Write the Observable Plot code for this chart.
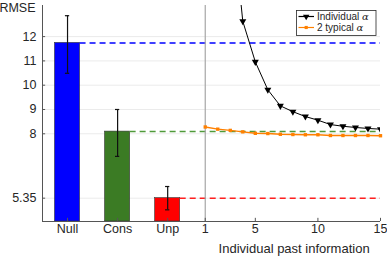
<!DOCTYPE html>
<html><head><meta charset="utf-8">
<script src="https://cdn.jsdelivr.net/npm/d3@7"></script>
<script src="https://cdn.jsdelivr.net/npm/@observablehq/plot@0.6"></script>
<style>body{margin:0;background:#fff}svg{font-family:"Liberation Sans",Arial,sans-serif}</style>
</head><body><div id="chart"></div>
<script>
const categories = ["Null", "Cons", "Unp"];
const barPos = [-10, -6, -2];
const barValues = [11.74, 8.09, 5.35];
const errLow = [10.49, 7.07, 4.87];
const errHigh = [12.86, 9.0, 5.83];
const barColors = ["#0000ff", "#3b7b24", "#ff0000"];
const dashColors = ["#0000ff", "#4f9a3a", "#ff2020"];

const pastInfo = [3, 4, 5, 6, 7, 8, 9, 10, 11, 12, 13, 14, 15];
const individualAlpha = [17.7, 12.63, 10.96, 9.81, 9.15, 8.91, 8.71, 8.56, 8.38, 8.31, 8.26, 8.22, 8.19];
const pastInfo2 = [1, 2, 3, 4, 5, 6, 7, 8, 9, 10, 11, 12, 13, 14, 15];
const typicalAlpha = [8.28, 8.19, 8.14, 8.08, 8.02, 8.01, 7.98, 7.97, 7.96, 7.96, 7.93, 7.93, 7.93, 7.93, 7.92];

const yTicks = [5.35, 8, 9, 10, 11, 12];
const xTicks = [-10, -6, -2, 1, 5, 10, 15];
const xTickLabels = ["Null", "Cons", "Unp", "1", "5", "10", "15"];

const yMin = 4.39, yMax = 13.28, xMin = -12, xMax = 15;
const bars = categories.map((c, i) => ({c, pos: barPos[i], v: barValues[i], lo: errLow[i], hi: errHigh[i], color: barColors[i], dash: dashColors[i]}));
const ind = pastInfo.map((x, i) => ({x, y: individualAlpha[i]}));
const typ = pastInfo2.map((x, i) => ({x, y: typicalAlpha[i]}));
const txt = "#262626";

const chart = Plot.plot({
  width: 387, height: 257,
  marginLeft: 42, marginRight: 7, marginTop: 5, marginBottom: 36,
  x: {domain: [xMin, xMax]},
  y: {domain: [yMin, yMax]},
  style: {fontFamily: "Liberation Sans, Arial, sans-serif", fontSize: "12.5px", color: txt},
  marks: [
    Plot.ruleY(yTicks, {x1: xMin, x2: xMax, stroke: "#ebebeb", strokeWidth: 1}),
    Plot.rect(bars, {x1: d => d.pos - 1, x2: d => d.pos + 1, y1: yMin, y2: "v", fill: "color", stroke: "#333", strokeWidth: 0.6}),
    Plot.ruleY(bars, {y: "v", x1: d => d.pos + 1, x2: xMax, stroke: "dash", strokeDasharray: "6,4", strokeWidth: 1.5}),
    Plot.ruleX(bars, {x: "pos", y1: "lo", y2: "hi", stroke: "#111", strokeWidth: 1.2}),
    Plot.ruleY(bars, {y: "lo", x1: d => d.pos - 0.17, x2: d => d.pos + 0.17, stroke: "#111", strokeWidth: 1.2}),
    Plot.ruleY(bars, {y: "hi", x1: d => d.pos - 0.17, x2: d => d.pos + 0.17, stroke: "#111", strokeWidth: 1.2}),
    Plot.ruleX([1], {y1: yMin, y2: yMax, stroke: "#a6a6a6", strokeWidth: 1.2}),
    Plot.line(typ, {x: "x", y: "y", stroke: "#ff8000", strokeWidth: 1.4}),
    Plot.dot(typ, {x: "x", y: "y", symbol: "square", r: 1.9, fill: "#ff8000"}),
    Plot.line(ind, {x: "x", y: "y", stroke: "#000", strokeWidth: 1, clip: true}),
    Plot.dot(ind, {x: "x", y: "y", symbol: "triangle", rotate: 180, r: 2.6, fill: "#000", clip: true}),
    Plot.ruleX([xMin], {y1: yMin, y2: yMax, stroke: "#555", strokeWidth: 1}),
    Plot.ruleY([yMin], {x1: xMin, x2: xMax, stroke: "#555", strokeWidth: 1}),
    Plot.ruleY(yTicks, {x1: xMin, x2: xMin + 0.25, stroke: "#555", strokeWidth: 1}),
    Plot.ruleX(xTicks, {y1: yMin, y2: yMin + 0.13, stroke: "#555", strokeWidth: 1}),
    Plot.axisY({ticks: yTicks, tickFormat: d => String(d), tickSize: 0, tickPadding: 6, label: null, fill: txt}),
    Plot.axisX({ticks: xTicks, tickFormat: d => xTickLabels[xTicks.indexOf(d)], tickSize: 0, tickPadding: 3, label: null, fill: txt}),
    Plot.text(["RMSE"], {frameAnchor: "top-left", lineAnchor: "middle", dx: -7, dy: 2, textAnchor: "end", fill: txt, fontSize: 12.5}),
    Plot.text(["Individual past information"], {x: () => 8.1, frameAnchor: "bottom", lineAnchor: "middle", dy: 27, fill: txt, fontSize: 13})
  ]
});
document.getElementById("chart").appendChild(chart);

// legend inside the axes
const svg = d3.select(chart);
const lg = svg.append("g").attr("font-family", "Liberation Sans, Arial, sans-serif").attr("font-size", 10).attr("text-anchor", "start");
lg.append("rect").attr("x", 296.5).attr("y", 10.5).attr("width", 79.5).attr("height", 25).attr("fill", "#fff").attr("stroke", "#262626").attr("stroke-width", 0.8);
const entries = [{label: "Individual ", color: "#000", sym: d3.symbolTriangle, rot: 180, y: 16.5}, {label: "2 typical ", color: "#ff8000", sym: d3.symbolSquare, rot: 0, y: 27.5}];
for (const e of entries) {
  lg.append("line").attr("x1", 298.5).attr("x2", 314).attr("y1", e.y).attr("y2", e.y).attr("stroke", e.color).attr("stroke-width", 1.2);
  lg.append("path").attr("d", d3.symbol(e.sym, e.rot ? 18 : 10)()).attr("transform", `translate(306.2,${e.y}) rotate(${e.rot})`).attr("fill", e.color);
  const t = lg.append("text").attr("x", 317).attr("y", e.y).attr("dy", "0.35em").attr("fill", txt).attr("text-anchor", "start");
  t.append("tspan").text(e.label);
  t.append("tspan").attr("font-family", "DejaVu Serif, serif").attr("font-style", "italic").text("α");
}
</script></body></html>
